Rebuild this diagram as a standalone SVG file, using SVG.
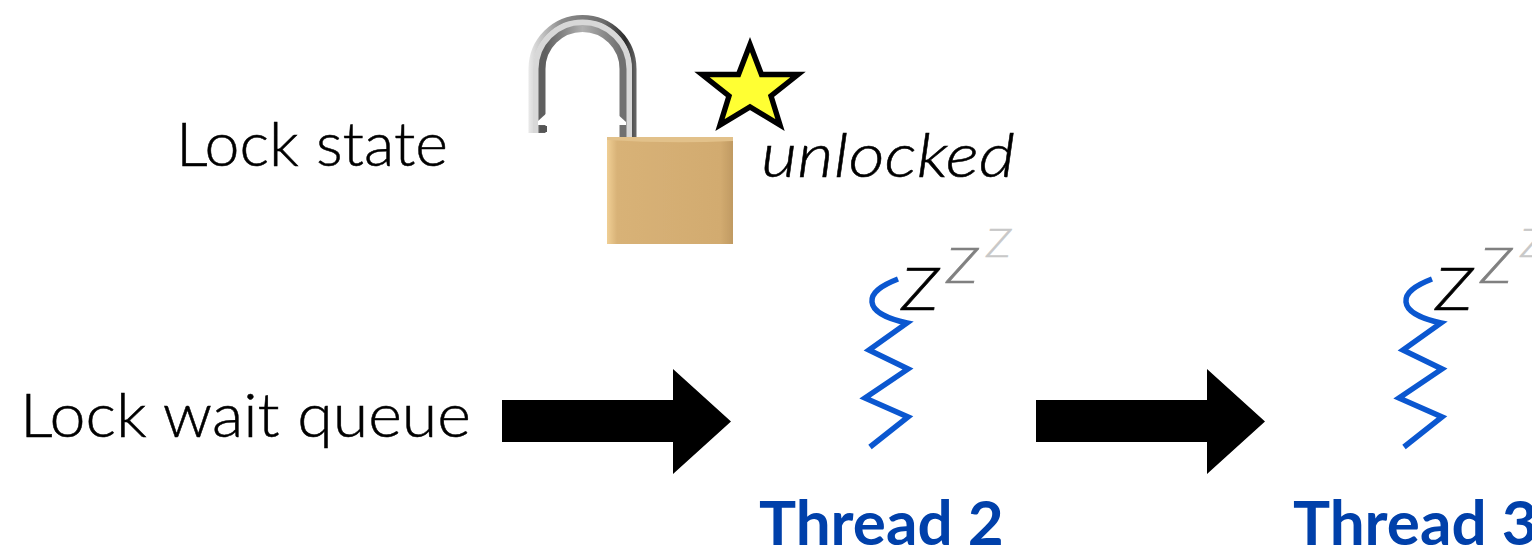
<svg xmlns="http://www.w3.org/2000/svg" width="1532" height="548" viewBox="0 0 1532 548">
<style>
text{font-family:"Lato","Open Sans",sans-serif;fill:#000}
.lbl{font-size:62px;font-weight:300;stroke:#000;stroke-width:.5}
.it{font-style:italic;font-weight:300}
.th{font-size:62px;font-weight:700;fill:#0040aa}
.sq{fill:none;stroke:#0b57d0;stroke-width:5.500;stroke-linejoin:miter;stroke-miterlimit:10}
.band{fill:none}
</style>
<defs>
<linearGradient id="body" x1="0" x2="1" y1="0" y2="0">
<stop offset="0" stop-color="#f0cf95"/><stop offset=".08" stop-color="#d8b277"/><stop offset=".9" stop-color="#d2ab70"/><stop offset="1" stop-color="#c09a62"/>
</linearGradient>
<linearGradient id="outer" gradientUnits="userSpaceOnUse" x1="529" x2="636" y1="0" y2="0">
<stop offset="0" stop-color="#e8e8e8"/><stop offset=".3" stop-color="#8c8c8c"/><stop offset=".7" stop-color="#6c6c6c"/><stop offset=".9" stop-color="#2c2c2c"/><stop offset="1" stop-color="#666"/>
</linearGradient>
<linearGradient id="inner" gradientUnits="userSpaceOnUse" x1="545" x2="620" y1="0" y2="0">
<stop offset="0" stop-color="#5e5e5e"/><stop offset=".5" stop-color="#b0b0b0"/><stop offset="1" stop-color="#707070"/>
</linearGradient>
<filter id="soft" x="-5%" y="-5%" width="110%" height="110%"><feGaussianBlur stdDeviation="0.600"/></filter>
<g id="thread">
<path class="sq" d="M898 279C880 286 871 293 872 302C873 312 888 319 907 323L869 350L908 369L865 398L908 417L870 447"/>
<text class="it" x="901" y="310" font-size="60" textLength="38" lengthAdjust="spacingAndGlyphs" style="stroke:#000;stroke-width:.7">Z</text>
<text class="it" x="946" y="283" font-size="49" style="fill:#808080;stroke:#808080;stroke-width:.6" textLength="32" lengthAdjust="spacingAndGlyphs">Z</text>
<text class="it" x="986" y="257" font-size="39" style="fill:#c8c8c8;stroke:#c8c8c8;stroke-width:.5" textLength="25" lengthAdjust="spacingAndGlyphs">Z</text>
</g>
<path id="arrow" d="M0 31H171V0L229 52.500L171 105V73H0Z"/>
</defs>
<rect width="1532" height="548" fill="#fff"/>
<g id="lock-state-label"><text class="lbl" x="176" y="166" textLength="272" lengthAdjust="spacingAndGlyphs">Lock state</text></g>
<g id="lock">
<g filter="url(#soft)">
<path class="band" d="M531 133V69A51.500 51.500 0 0 1 634 69V137" stroke="url(#outer)" stroke-width="5"/>
<path class="band" d="M536 133V69A46.500 46.500 0 0 1 629 69V137" stroke="#d8d8d8" stroke-width="6"/>
<path class="band" d="M542 133V69A40.500 40.500 0 0 1 623 69V137" stroke="url(#inner)" stroke-width="7"/>
<path d="M549 111L538 121V125H549Z" fill="#fff"/>
<path d="M615 112L626 122V125H615Z" fill="#fff"/>
<path d="M540 126H547V132H540Z" fill="#555"/>
<rect x="607" y="137" width="126" height="107" fill="url(#body)"/>
<path d="M607 137H733V141Q670 144 607 140Z" fill="#e2c18a"/>
</g>
</g>
<g id="unlocked-star"><polygon points="750,44.500 761.500,74.500 798,74.500 771,96 780,125 750,107 720,125 729,96 702,74.500 738.500,74.500" fill="#ffff33" stroke="#000" stroke-width="5.400" stroke-miterlimit="10"/></g>
<g id="unlocked-label"><text class="lbl it" x="761" y="177" textLength="254" lengthAdjust="spacingAndGlyphs">unlocked</text></g>
<g id="queue-label"><text class="lbl" x="20" y="437" textLength="451" lengthAdjust="spacingAndGlyphs">Lock wait queue</text></g>
<g id="connectors">
<use href="#arrow" x="502" y="369"/>
<use href="#arrow" x="1036" y="369"/>
</g>
<g id="thread-2"><use href="#thread"/><text class="th" x="759" y="545">Thread 2</text></g>
<g id="thread-3"><use href="#thread" x="534"/><text class="th" x="1293" y="545">Thread 3</text></g>
</svg>
